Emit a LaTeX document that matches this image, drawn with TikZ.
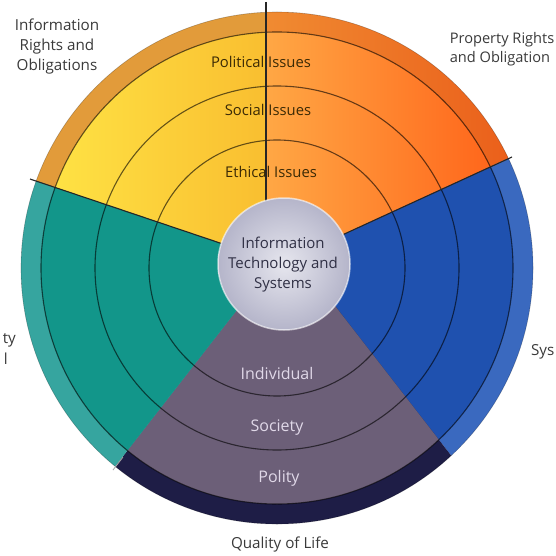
\documentclass[tikz,border=0pt]{standalone}
\usepackage{fontspec}
\usetikzlibrary{calc}
\setmainfont{Open Sans}
\definecolor{yelA}{HTML}{FFE646}
\definecolor{yelB}{HTML}{F9BE30}
\definecolor{yband}{HTML}{E29B3A}
\definecolor{oraA}{HTML}{FFA845}
\definecolor{oraB}{HTML}{FF5E16}
\definecolor{obandA}{HTML}{F08C32}
\definecolor{obandB}{HTML}{EA5A18}
\definecolor{bluIn}{HTML}{1F51AF}
\definecolor{bluBand}{HTML}{3A69BF}
\definecolor{tealIn}{HTML}{12968A}
\definecolor{tealBand}{HTML}{36A59F}
\definecolor{purIn}{HTML}{6C5F78}
\definecolor{purBand}{HTML}{1E1D46}
\definecolor{hubA}{HTML}{E6E6EE}
\definecolor{hubB}{HTML}{B5B5CA}
\definecolor{outTxt}{HTML}{3A3A3A}
\definecolor{ringTxt}{HTML}{3B2A05}
\definecolor{hubTxt}{HTML}{303045}
\definecolor{purTxt}{HTML}{E0D8E8}
\tikzset{
  ringline/.style={draw=black, draw opacity=0.6, line width=1.1pt},
  divider/.style={draw=black!85, line width=1.1pt},
  outlbl/.style={text=outTxt, font=\fontsize{15.2}{20}\selectfont, align=center, inner sep=0pt},
  ringlbl/.style={text=ringTxt, font=\fontsize{14.8}{17}\selectfont, inner sep=0pt},
  hublbl/.style={text=hubTxt, font=\fontsize{15}{20}\selectfont, align=center, inner sep=0pt},
  purlbl/.style={text=purTxt, font=\fontsize{16}{18}\selectfont, inner sep=0pt}
}
\begin{document}
\begin{tikzpicture}[x=1pt,y=-1pt]
\useasboundingbox (0,0) rectangle (556,556);
\fill[white] (0,0) rectangle (556,556);
\clip (0,0) rectangle (556,556);
\coordinate (O) at (277,268);
\coordinate (H) at (284,264);
% divider lines: inner points and far points
\coordinate (Pi1) at (266,215);  \coordinate (Po1) at (266,-100);
\coordinate (Pi2) at (225,244.7); \coordinate (Po2) at (-100,135);
\coordinate (Pi3) at (340,236);  \coordinate (Po3) at (650,93);
\coordinate (Pi4) at (238,308.5); \coordinate (Po4) at (-28,650);
\coordinate (Pi5) at (334,304.6); \coordinate (Po5) at (602,650);
% tick ends
\coordinate (T1) at (266,2);
\coordinate (T2) at (30,179);
\coordinate (T3) at (512,157);
\coordinate (T4) at (113,470);
% yellow sector
\begin{scope}
  \clip (Pi1) -- (Po1) -- (-100,-100) -- (Po2) -- (Pi2) -- cycle;
  \fill[yband] (O) circle[radius=256pt];
  \clip (O) circle[radius=236pt];
  \shade[left color=yelA, right color=yelB] (30,20) rectangle (268,250);
\end{scope}
% orange sector
\begin{scope}
  \clip (Pi1) -- (Po1) -- (650,-100) -- (Po3) -- (Pi3) -- cycle;
  \clip (O) circle[radius=256pt];
  \shade[left color=obandA, right color=obandB] (260,0) rectangle (540,260);
  \clip (O) circle[radius=236pt];
  \shade[left color=oraA, right color=oraB] (264,20) rectangle (520,250);
\end{scope}
% blue sector
\begin{scope}
  \clip (Pi3) -- (Po3) -- (650,650) -- (Po5) -- (Pi5) -- cycle;
  \fill[bluBand] (O) circle[radius=256pt];
  \fill[bluIn] (O) circle[radius=236pt];
\end{scope}
% purple sector
\begin{scope}
  \clip (Pi5) -- (Po5) -- (Po4) -- (Pi4) -- cycle;
  \fill[purBand] (O) circle[radius=256pt];
  \fill[purIn] (O) circle[radius=236pt];
\end{scope}
% teal sector
\begin{scope}
  \clip (Pi4) -- (Po4) -- (-100,650) -- (Po2) -- (Pi2) -- cycle;
  \fill[tealBand] (O) circle[radius=256pt];
  \fill[tealIn] (O) circle[radius=236pt];
\end{scope}
% rings
\draw[draw=black, draw opacity=0.25, line width=0.6pt] (O) circle[radius=256pt];
\draw[ringline] (O) circle[radius=236pt];
\draw[ringline] (O) circle[radius=182pt];
\draw[ringline] (O) circle[radius=128pt];
% dividers
\draw[divider] (T1) -- (Pi1);
\draw[divider] (T2) -- (Pi2);
\draw[divider] (T3) -- (Pi3);
\draw[draw=gray!70, line width=0.8pt] (T4) -- ($(T4)!0.08!(Pi4)$);
% hub
\shade[inner color=hubA, outer color=hubB] (H) circle[radius=66pt];
\draw[draw=white, draw opacity=0.6, line width=1.5pt] (H) circle[radius=66pt];
% labels
\node[hublbl] (hub) at (283,265) {Information\\Technology and\\Systems};
\node[ringlbl] (pol) at (261,62) {Political Issues};
\node[ringlbl] (soc) at (268,110) {Social Issues};
\node[ringlbl] (eth) at (271,172) {Ethical Issues};
\node[purlbl] (ind) at (277,373) {Individual};
\node[purlbl] (scty) at (277,428) {Society};
\node[purlbl] (polity) at (279,478) {Polity};
\node[outlbl] (irights) at (57,47) {Information\\Rights and\\Obligations};
\node[outlbl, align=left, anchor=east, font=\fontsize{14.6}{19}\selectfont] (prights) at (554.5,49) {Property Rights\\and Obligation};
\node[outlbl, anchor=east] (acc1) at (16,340) {ty};
\node[outlbl, anchor=east] (acc2) at (8,359) {l};
\node[outlbl, anchor=east] (sysq) at (554.5,352) {Sys};
\node[outlbl] (qol) at (280,545) {Quality of Life};
\end{tikzpicture}
\end{document}
